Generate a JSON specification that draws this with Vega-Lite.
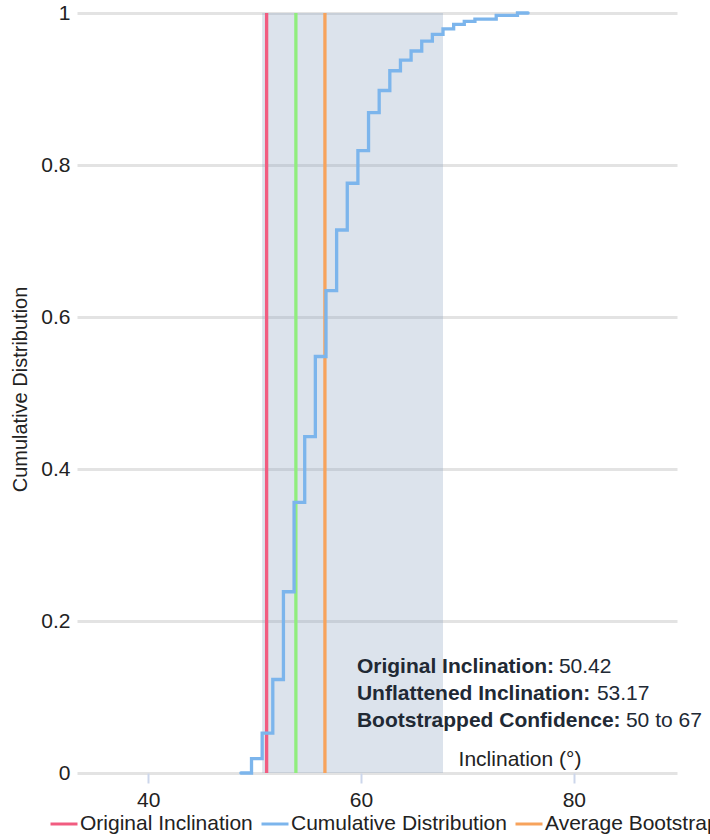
{
  "$schema": "https://vega.github.io/schema/vega-lite/v6.json",
  "width": 600,
  "height": 760,
  "autosize": {"type": "none"},
  "padding": {"left": 77, "top": 13, "right": 33, "bottom": 67},
  "background": "white",
  "config": {
    "view": {"stroke": null},
    "font": "Liberation Sans",
    "axisX": {
      "grid": false,
      "domain": false,
      "tickColor": "#ccd6eb",
      "tickSize": 10,
      "tickWidth": 2,
      "labelFontSize": 21,
      "labelColor": "#222222",
      "labelPadding": 6,
      "titleFontSize": 21,
      "titleFontWeight": "normal",
      "titleColor": "#222222",
      "titleX": 442.5,
      "titleY": -14,
      "titleAlign": "center",
      "titleBaseline": "middle"
    },
    "axisY": {
      "grid": true,
      "gridColor": "#e3e3e3",
      "gridWidth": 3,
      "domain": false,
      "ticks": false,
      "labelFontSize": 21,
      "labelColor": "#222222",
      "labelPadding": 7,
      "titleFontSize": 20,
      "titleFontWeight": "normal",
      "titleColor": "#222222",
      "titleX": -57,
      "titleY": 376,
      "titleAlign": "center",
      "titleBaseline": "middle",
      "titleAngle": -90
    },
    "legend": {
      "orient": "none",
      "legendX": -28,
      "legendY": 796,
      "direction": "horizontal",
      "columns": 4,
      "symbolType": "stroke",
      "symbolSize": 729,
      "symbolStrokeWidth": 3,
      "labelFontSize": 21,
      "labelColor": "#222222",
      "labelOffset": 1,
      "columnPadding": 2,
      "padding": 0,
      "labelLimit": 600
    }
  },
  "datasets": {
    "cdf": [
      {"inclination": 48, "cdf": 0},
      {"inclination": 49, "cdf": 0.019},
      {"inclination": 50, "cdf": 0.0525},
      {"inclination": 51, "cdf": 0.123},
      {"inclination": 52, "cdf": 0.2385},
      {"inclination": 53, "cdf": 0.356},
      {"inclination": 54, "cdf": 0.4425},
      {"inclination": 55, "cdf": 0.548},
      {"inclination": 56, "cdf": 0.6346},
      {"inclination": 57, "cdf": 0.7145},
      {"inclination": 58, "cdf": 0.776},
      {"inclination": 59, "cdf": 0.819},
      {"inclination": 60, "cdf": 0.869},
      {"inclination": 61, "cdf": 0.898},
      {"inclination": 62, "cdf": 0.924},
      {"inclination": 63, "cdf": 0.938},
      {"inclination": 64, "cdf": 0.95},
      {"inclination": 65, "cdf": 0.963},
      {"inclination": 66, "cdf": 0.972},
      {"inclination": 67, "cdf": 0.979},
      {"inclination": 68, "cdf": 0.985},
      {"inclination": 69, "cdf": 0.989},
      {"inclination": 70, "cdf": 0.992},
      {"inclination": 72, "cdf": 0.997},
      {"inclination": 74, "cdf": 1.0},
      {"inclination": 75, "cdf": 1.0}
    ],
    "markers": [
      {"series": "Original Inclination", "inclination": 50.42},
      {"series": "Unflattened Inclination", "inclination": 53.17},
      {"series": "Average Bootstrapped Inclination", "inclination": 55.9}
    ],
    "band": [{"low": 50, "high": 67}],
    "notes": [
      {"label": "Original Inclination:", "value": "50.42", "y": 0.14, "vx": 78.6},
      {"label": "Unflattened Inclination:", "value": "53.17", "y": 0.1035, "vx": 82.17},
      {"label": "Bootstrapped Confidence:", "value": "50 to 67", "y": 0.068, "vx": 84.9}
    ]
  },
  "encoding": {
    "x": {
      "type": "quantitative",
      "title": "Inclination (°)",
      "scale": {"domain": [33.3, 89.7], "nice": false, "zero": false},
      "axis": {"values": [40, 60, 80]}
    },
    "y": {
      "type": "quantitative",
      "title": "Cumulative Distribution",
      "scale": {"domain": [0, 1], "nice": false},
      "axis": {"values": [0, 0.2, 0.4, 0.6, 0.8, 1], "format": "~g"}
    }
  },
  "layer": [
    {
      "data": {"name": "band"},
      "mark": {"type": "rect", "color": "#8aa2c0", "opacity": 0.3, "xOffset": 7.5, "x2Offset": 7.5},
      "encoding": {
        "x": {"field": "low", "type": "quantitative", "title": "Inclination (°)"},
        "x2": {"field": "high"},
        "y": {"datum": 0, "type": "quantitative", "title": "Cumulative Distribution"},
        "y2": {"datum": 1}
      }
    },
    {
      "data": {"name": "markers"},
      "mark": {"type": "rule", "strokeWidth": 3.3, "xOffset": 7.5},
      "encoding": {
        "x": {"field": "inclination", "type": "quantitative", "title": "Inclination (°)"},
        "y": {"datum": 0, "type": "quantitative", "title": "Cumulative Distribution"},
        "y2": {"datum": 1},
        "color": {
          "field": "series",
          "type": "nominal",
          "scale": {
            "domain": ["Original Inclination", "Cumulative Distribution", "Average Bootstrapped Inclination", "Unflattened Inclination"],
            "range": ["#f15c80", "#7cb5ec", "#f7a35c", "#90ed7d"]
          },
          "legend": {"title": null}
        }
      }
    },
    {
      "data": {"name": "cdf"},
      "mark": {"type": "line", "interpolate": "step-after", "strokeWidth": 3.3, "xOffset": 7.5, "strokeCap": "round"},
      "encoding": {
        "x": {"field": "inclination", "type": "quantitative", "title": "Inclination (°)"},
        "y": {"field": "cdf", "type": "quantitative", "title": "Cumulative Distribution"},
        "color": {"datum": "Cumulative Distribution", "type": "nominal"}
      }
    },
    {
      "data": {"name": "notes"},
      "mark": {"type": "text", "align": "left", "baseline": "middle", "fontSize": 21, "fontWeight": "bold", "color": "#212934"},
      "encoding": {
        "x": {"datum": 59.61, "type": "quantitative", "title": "Inclination (°)"},
        "y": {"field": "y", "type": "quantitative", "title": "Cumulative Distribution"},
        "text": {"field": "label"}
      }
    },
    {
      "data": {"name": "notes"},
      "mark": {"type": "text", "align": "left", "baseline": "middle", "fontSize": 21, "fontWeight": "normal", "color": "#212934"},
      "encoding": {
        "x": {"field": "vx", "type": "quantitative", "title": "Inclination (°)"},
        "y": {"field": "y", "type": "quantitative", "title": "Cumulative Distribution"},
        "text": {"field": "value"}
      }
    }
  ]
}
